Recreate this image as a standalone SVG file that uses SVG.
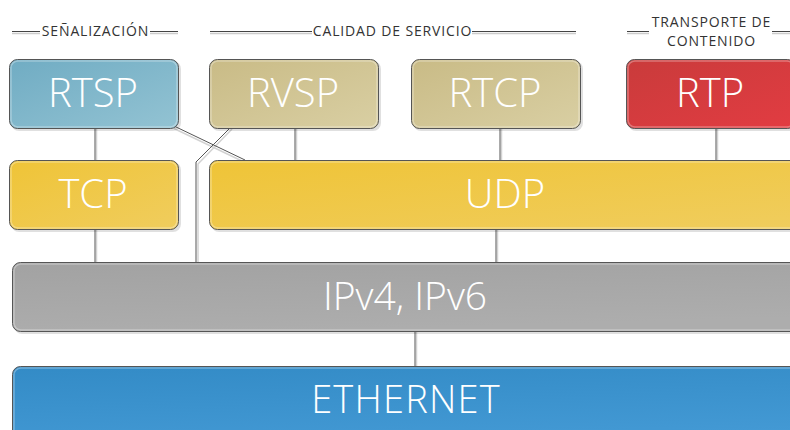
<svg xmlns="http://www.w3.org/2000/svg" width="790" height="430" viewBox="0 0 790 430">
  <style>
    .hdr { font-family: "Open Sans", "Liberation Sans", sans-serif; font-size: 14px; letter-spacing: 0.85px; fill: #333; text-anchor: middle; }
    .lbl { font-family: "Open Sans", "Liberation Sans", sans-serif; font-weight: 300; fill: #fff; text-anchor: middle; }
    .box { stroke: #555; stroke-width: 1; }
    .shine { fill: none; stroke: #fff; stroke-opacity: 0.3; stroke-width: 1.5; }
    .shadow { fill: #000; opacity: 0.12; }
    .rule-d { stroke: #444; stroke-width: 1; }
    .rule-l { stroke: #ccc; stroke-width: 1.5; }
    .wire-d { stroke: #555; stroke-width: 1; fill: none; }
    .wire-l { stroke: #d2d2d2; stroke-width: 1.5; fill: none; }
  </style>
  <defs>
    <linearGradient id="gBlueLight" x1="0" y1="0" x2="1" y2="1">
      <stop offset="0" stop-color="#70acc3"/>
      <stop offset="1" stop-color="#93c3d3"/>
    </linearGradient>
    <linearGradient id="gTan" x1="0" y1="0" x2="1" y2="1">
      <stop offset="0" stop-color="#c9bb86"/>
      <stop offset="1" stop-color="#d9cfa3"/>
    </linearGradient>
    <linearGradient id="gRed" x1="0" y1="0" x2="1" y2="1">
      <stop offset="0" stop-color="#c93b3b"/>
      <stop offset="1" stop-color="#e23c42"/>
    </linearGradient>
    <linearGradient id="gYellow" x1="0" y1="0" x2="1" y2="1">
      <stop offset="0" stop-color="#efc437"/>
      <stop offset="1" stop-color="#f0cd5e"/>
    </linearGradient>
    <linearGradient id="gGray" x1="0" y1="0" x2="0.3" y2="1">
      <stop offset="0" stop-color="#a2a2a2"/>
      <stop offset="1" stop-color="#adadad"/>
    </linearGradient>
    <linearGradient id="gBlue" x1="0" y1="0" x2="0.3" y2="1">
      <stop offset="0" stop-color="#338bc6"/>
      <stop offset="1" stop-color="#4399d4"/>
    </linearGradient>
  </defs>

  <rect width="790" height="430" fill="#fff"/>

  <!-- Section headers -->
  <g id="hdr-senalizacion">
    <line class="rule-d" x1="12" y1="31.5" x2="40" y2="31.5"/>
    <line class="rule-l" x1="12" y1="33.5" x2="40" y2="33.5"/>
    <line class="rule-d" x1="150" y1="31.5" x2="178" y2="31.5"/>
    <line class="rule-l" x1="150" y1="33.5" x2="178" y2="33.5"/>
    <text class="hdr" x="95.5" y="36">SEÑALIZACIÓN</text>
  </g>
  <g id="hdr-calidad">
    <line class="rule-d" x1="210" y1="31.5" x2="312" y2="31.5"/>
    <line class="rule-l" x1="210" y1="33.5" x2="312" y2="33.5"/>
    <line class="rule-d" x1="472" y1="31.5" x2="576" y2="31.5"/>
    <line class="rule-l" x1="472" y1="33.5" x2="576" y2="33.5"/>
    <text class="hdr" x="392.5" y="36">CALIDAD DE SERVICIO</text>
  </g>
  <g id="hdr-transporte">
    <line class="rule-d" x1="627" y1="31.5" x2="649" y2="31.5"/>
    <line class="rule-l" x1="627" y1="33.5" x2="649" y2="33.5"/>
    <line class="rule-d" x1="772" y1="31.5" x2="790" y2="31.5"/>
    <line class="rule-l" x1="772" y1="33.5" x2="790" y2="33.5"/>
    <text class="hdr" x="711.5" y="27">TRANSPORTE DE</text>
    <text class="hdr" x="711.5" y="46">CONTENIDO</text>
  </g>

  <!-- Connectors -->
  <g id="connectors">
    <!-- light companions -->
    <line class="wire-l" x1="96.5" y1="128" x2="96.5" y2="160"/>
    <line class="wire-l" x1="96.5" y1="229" x2="96.5" y2="262"/>
    <line class="wire-l" x1="174" y1="128.5" x2="244" y2="162"/>
    <polyline class="wire-l" points="232,129 198,164 198,262"/>
    <line class="wire-l" x1="296.5" y1="128" x2="296.5" y2="160"/>
    <line class="wire-l" x1="501.5" y1="128" x2="501.5" y2="160"/>
    <line class="wire-l" x1="717.5" y1="128" x2="717.5" y2="160"/>
    <line class="wire-l" x1="497.5" y1="229" x2="497.5" y2="262"/>
    <line class="wire-l" x1="416.5" y1="331" x2="416.5" y2="366"/>
    <!-- dark lines -->
    <line class="wire-d" x1="95" y1="128" x2="95" y2="160"/>
    <line class="wire-d" x1="95" y1="229" x2="95" y2="262"/>
    <line class="wire-d" x1="174" y1="126" x2="245" y2="160"/>
    <polyline class="wire-d" points="230,128 196,162 196,262"/>
    <line class="wire-d" x1="295" y1="128" x2="295" y2="160"/>
    <line class="wire-d" x1="500" y1="128" x2="500" y2="160"/>
    <line class="wire-d" x1="716" y1="128" x2="716" y2="160"/>
    <line class="wire-d" x1="496" y1="229" x2="496" y2="262"/>
    <line class="wire-d" x1="415" y1="331" x2="415" y2="366"/>
  </g>

  <!-- Nodes -->
  <g id="node-rtsp">
    <rect class="shadow" x="11" y="61" width="170" height="70" rx="8"/>
    <rect class="box" x="9.5" y="59.5" width="169" height="69" rx="8" fill="url(#gBlueLight)"/>
    <rect class="shine" x="11" y="61" width="166" height="66" rx="7"/>
    <text class="lbl" x="93" y="107" font-size="40">RTSP</text>
  </g>
  <g id="node-rvsp">
    <rect class="shadow" x="211" y="61" width="170" height="70" rx="8"/>
    <rect class="box" x="209.5" y="59.5" width="169" height="69" rx="8" fill="url(#gTan)"/>
    <rect class="shine" x="211" y="61" width="166" height="66" rx="7"/>
    <text class="lbl" x="293" y="107" font-size="40">RVSP</text>
  </g>
  <g id="node-rtcp">
    <rect class="shadow" x="413" y="61" width="170" height="70" rx="8"/>
    <rect class="box" x="411.5" y="59.5" width="169" height="69" rx="8" fill="url(#gTan)"/>
    <rect class="shine" x="413" y="61" width="166" height="66" rx="7"/>
    <text class="lbl" x="495" y="107" font-size="40">RTCP</text>
  </g>
  <g id="node-rtp">
    <rect class="shadow" x="628" y="61" width="170" height="70" rx="8"/>
    <rect class="box" x="626.5" y="59.5" width="169" height="69" rx="8" fill="url(#gRed)"/>
    <rect class="shine" x="628" y="61" width="166" height="66" rx="7"/>
    <text class="lbl" x="710" y="107" font-size="40">RTP</text>
  </g>
  <g id="node-tcp">
    <rect class="shadow" x="11" y="162" width="170" height="70" rx="8"/>
    <rect class="box" x="9.5" y="160.5" width="169" height="69" rx="8" fill="url(#gYellow)"/>
    <rect class="shine" x="11" y="162" width="166" height="66" rx="7"/>
    <text class="lbl" x="93" y="208" font-size="40">TCP</text>
  </g>
  <g id="node-udp">
    <rect class="shadow" x="211" y="162" width="600" height="70" rx="8"/>
    <rect class="box" x="209.5" y="160.5" width="600" height="69" rx="8" fill="url(#gYellow)"/>
    <rect class="shine" x="211" y="162" width="597" height="66" rx="7"/>
    <text class="lbl" x="505" y="208" font-size="40">UDP</text>
  </g>
  <g id="node-ip">
    <rect class="shadow" x="14" y="264" width="800" height="70" rx="8"/>
    <rect class="box" x="12.5" y="262.5" width="800" height="69" rx="8" fill="url(#gGray)"/>
    <rect class="shine" x="14" y="264" width="797" height="66" rx="7"/>
    <text class="lbl" x="405" y="310" font-size="39">IPv4, IPv6</text>
  </g>
  <g id="node-ethernet">
    <rect class="box" x="12.5" y="366.5" width="800" height="80" rx="8" fill="url(#gBlue)"/>
    <rect class="shine" x="14" y="368" width="797" height="78" rx="7"/>
    <text class="lbl" x="406" y="413" font-size="38" letter-spacing="1.2">ETHERNET</text>
  </g>
</svg>
